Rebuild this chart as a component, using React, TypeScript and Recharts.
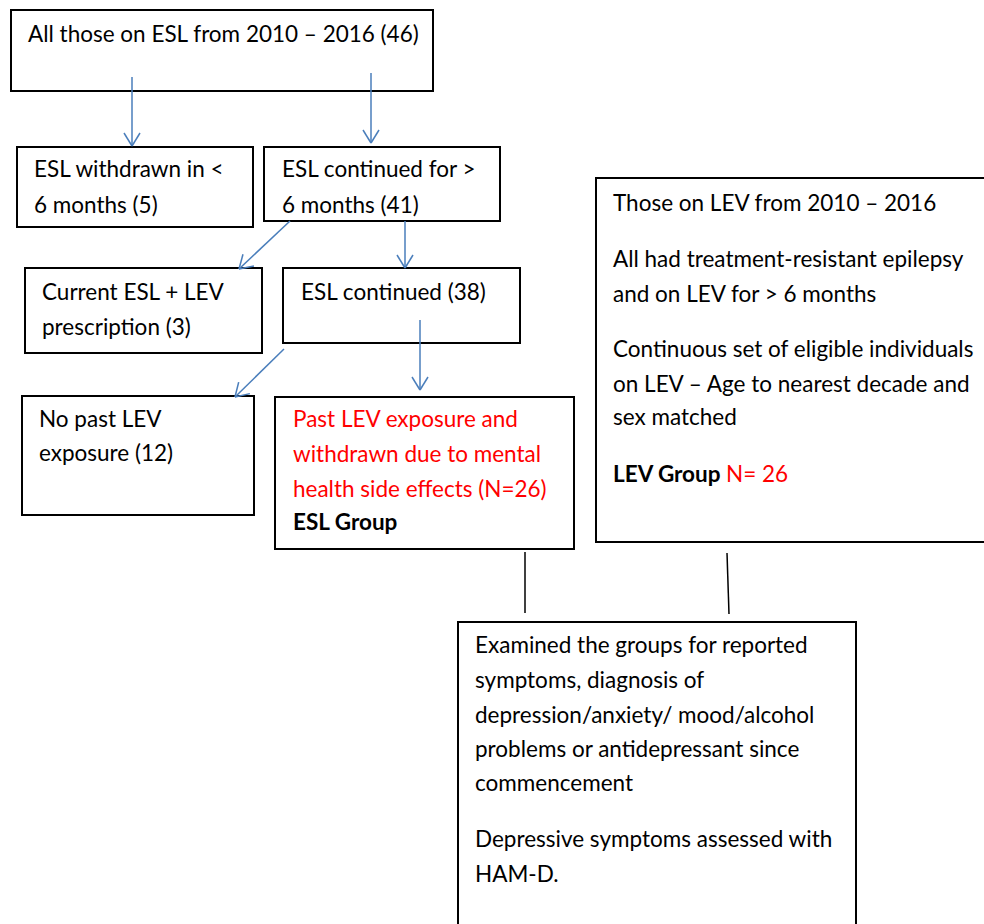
import { ScatterChart, Scatter, XAxis, YAxis, ReferenceArea, ReferenceLine } from 'recharts'

const FONT = 'Lato, "Open Sans", sans-serif'
const BLUE = '#4a7ebb'
const RED = '#ff0000'

// flowchart boxes, in page units (x right, y down)
const boxes = [
  { id: 'all', x1: 11, x2: 433, y1: 10, y2: 91 },
  { id: 'withdrawn', x1: 17, x2: 253, y1: 147, y2: 227 },
  { id: 'continued', x1: 264, x2: 500, y1: 147, y2: 221 },
  { id: 'current', x1: 25, x2: 262, y1: 268, y2: 353 },
  { id: 'continued38', x1: 283, x2: 520, y1: 268, y2: 343 },
  { id: 'noPast', x1: 22, x2: 254, y1: 396, y2: 515 },
  { id: 'eslGroup', x1: 275, x2: 574, y1: 397, y2: 549 },
  { id: 'levGroup', x1: 596, x2: 995, y1: 178, y2: 542 },
  { id: 'examined', x1: 458, x2: 856, y1: 622, y2: 935 },
]

// blue arrows (from -> to)
const arrows = [
  { x1: 132, y1: 77, x2: 132, y2: 146 },
  { x1: 371, y1: 73, x2: 371, y2: 143 },
  { x1: 290, y1: 221, x2: 239, y2: 269 },
  { x1: 405, y1: 221, x2: 405, y2: 268 },
  { x1: 284, y1: 349, x2: 235, y2: 397 },
  { x1: 420, y1: 320, x2: 420, y2: 390 },
]

// plain black connectors
const connectors = [
  { x1: 525, y1: 552, x2: 525, y2: 613 },
  { x1: 727, y1: 553, x2: 729, y2: 614 },
]

type Run = { t: string; color?: string; bold?: boolean }
type TextLine = { x: number; y: number; runs: Run[] }

const txt = (x: number, y: number, t: string, color?: string, bold?: boolean): TextLine => ({ x, y, runs: [{ t, color, bold }] })

const textLines: TextLine[] = [
  txt(28, 42, 'All those on ESL from 2010 – 2016 (46)'),
  txt(34, 177, 'ESL withdrawn in <'),
  txt(34, 213, '6 months (5)'),
  txt(282, 177, 'ESL continued for >'),
  txt(282, 213, '6 months (41)'),
  txt(42, 300, 'Current ESL + LEV'),
  txt(42, 335, 'prescription (3)'),
  txt(301, 300, 'ESL continued (38)'),
  txt(39, 427, 'No past LEV'),
  txt(39, 461, 'exposure (12)'),
  txt(293, 427, 'Past LEV exposure and', RED),
  txt(293, 462, 'withdrawn due to mental', RED),
  txt(293, 497, 'health side effects (N=26)', RED),
  txt(293, 530, 'ESL Group', undefined, true),
  txt(613, 211, 'Those on LEV from 2010 – 2016'),
  txt(613, 267, 'All had treatment-resistant epilepsy'),
  txt(613, 302, 'and on LEV for > 6 months'),
  txt(613, 357, 'Continuous set of eligible individuals'),
  txt(613, 392, 'on LEV – Age to nearest decade and'),
  txt(613, 425, 'sex matched'),
  { x: 613, y: 482, runs: [{ t: 'LEV Group ', bold: true }, { t: 'N= 26', color: RED }] },
  txt(475, 653, 'Examined the groups for reported'),
  txt(475, 688, 'symptoms, diagnosis of'),
  txt(475, 723, 'depression/anxiety/ mood/alcohol'),
  txt(475, 757, 'problems or antidepressant since'),
  txt(475, 791, 'commencement'),
  txt(475, 847, 'Depressive symptoms assessed with'),
  txt(475, 882, 'HAM-D.'),
]

// open V arrowhead: two short strokes back from the tip
function headSegments(a: { x1: number; y1: number; x2: number; y2: number }) {
  const dx = a.x2 - a.x1
  const dy = a.y2 - a.y1
  const len = Math.hypot(dx, dy)
  const ux = dx / len
  const uy = dy / len
  const back = 13
  const half = 8
  const bx = a.x2 - ux * back
  const by = a.y2 - uy * back
  return [
    [{ x: bx - uy * half, y: by + ux * half }, { x: a.x2, y: a.y2 }],
    [{ x: bx + uy * half, y: by - ux * half }, { x: a.x2, y: a.y2 }],
  ]
}

function TextShape(props: any) {
  const { cx, cy, payload } = props
  return (
    <text x={cx} y={cy} fontFamily={FONT} fontSize={22.5} fill="#000">
      {payload.runs.map((r: Run, i: number) => (
        <tspan key={i} fill={r.color ?? '#000'} fontWeight={r.bold ? 700 : 400} style={{ whiteSpace: 'pre' }}>
          {r.t}
        </tspan>
      ))}
    </text>
  )
}

export default function App() {
  return (
    <div style={{ position: 'absolute', left: 0, top: 0, width: 984, height: 924, background: '#fff' }}>
      <ScatterChart width={984} height={924} margin={{ top: 0, right: 0, bottom: 0, left: 0 }}>
        <XAxis type="number" dataKey="x" domain={[0, 984]} hide />
        <YAxis type="number" dataKey="y" domain={[0, 924]} reversed hide />
        {boxes.map((b) => (
          <ReferenceArea key={b.id} x1={b.x1} x2={b.x2} y1={b.y1} y2={b.y2}
            fill="#fff" fillOpacity={1} stroke="#000" strokeWidth={2} ifOverflow="hidden" />
        ))}
        {arrows.map((a, i) => (
          <ReferenceLine key={`a${i}`} segment={[{ x: a.x1, y: a.y1 }, { x: a.x2, y: a.y2 }]}
            stroke={BLUE} strokeWidth={1.5} />
        ))}
        {arrows.flatMap((a, i) => headSegments(a).map((s, j) => (
          <ReferenceLine key={`h${i}-${j}`} segment={s} stroke={BLUE} strokeWidth={1.5} ifOverflow="visible" />
        )))}
        {connectors.map((c, i) => (
          <ReferenceLine key={`c${i}`} segment={[{ x: c.x1, y: c.y1 }, { x: c.x2, y: c.y2 }]}
            stroke="#000" strokeWidth={1.5} />
        ))}
        <Scatter data={textLines} dataKey="y" shape={TextShape} isAnimationActive={false} />
      </ScatterChart>
    </div>
  )
}
